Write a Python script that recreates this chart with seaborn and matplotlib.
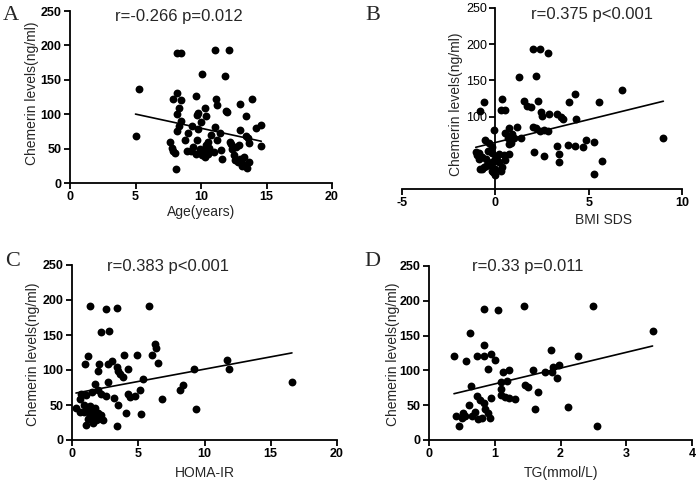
import matplotlib
matplotlib.use("Agg")
import matplotlib.pyplot as plt
import seaborn as sns
import pandas as pd

# ---------------- data ----------------
age = [5.0, 5.3, 7.6, 7.8, 7.9, 8.0, 8.1, 7.9, 8.2, 8.45, 8.2, 8.5, 8.35, 8.15, 8.35, 8.15,
       8.5, 8.8, 8.9, 9.2, 9.0, 9.3, 9.7, 9.6, 9.8, 9.7, 9.8, 9.9, 10.0, 10.1, 10.2, 10.3,
       10.5, 10.6, 10.0, 10.1, 10.3, 10.4, 10.5, 10.8, 11.1, 11.15, 11.25, 11.45, 11.2, 11.0,
       11.6, 11.8, 11.1, 12.1, 11.9, 12.0, 12.2, 12.3, 12.5, 12.7, 12.9, 13.0, 13.0, 12.8,
       13.0, 13.2, 13.3, 13.4, 13.4, 13.5, 13.6, 13.7, 13.9, 13.7, 14.2, 14.6, 14.6,
       9.6, 10.4, 10.7, 9.4, 12.6, 13.1, 11.5, 12.4]
chem_a = [68, 137, 60, 51, 46, 43, 20, 122, 131, 121, 189, 189, 109, 100, 83, 76,
          90, 63, 47, 47, 73, 83, 99, 126, 78, 63, 102, 50, 45, 40, 48, 38,
          42, 51, 89, 158, 109, 98, 60, 70, 81, 122, 114, 72, 63, 45,
          35, 156, 194, 194, 104, 103, 60, 56, 40, 53, 55, 115, 77, 30,
          35, 27, 38, 69, 97, 22, 65, 58, 122, 30, 80, 85, 54,
          42, 55, 46, 52, 33, 24, 48, 50]

bmi_sds = [2.0, 2.4, 2.8, 1.26, 2.16, -0.63, -0.81, 0.36, 0.32, 0.54, 1.53, 1.71, 1.89, 2.3,
           2.43, 2.52, 2.88, 3.33, 3.5, 3.6, 3.96, 4.27, 4.32, 5.55, 6.76, 9.0,
           1.17, 2.0, 2.2, 2.4, 2.6, 2.8, 0.54, -0.09, 1.35, 0.9, 0.86,
           2.07, 2.6, 3.33, 3.42, 3.42, 3.87, 4.29, 4.72, 4.86, 5.31, 5.3, 5.7,
           -1.05, -0.81, -0.54, -0.36, -0.18, -0.9, -0.7, -0.5, -0.18, 0.18, 0.0, 0.18,
           0.36, 0.0, -0.7, -0.6, 0.0, 0.54, 0.72, 0.72, 1.0, -0.9, -1.0, -0.3, -0.1, 0.3,
           0.72, 0.68, -0.4, 0.1, -0.2, 0.45, -0.5, -0.2, 0.1]
chem_b = [193, 193, 188, 155, 156, 120, 108, 124, 109, 109, 122, 115, 113, 122,
          107, 101, 103, 104, 100, 97, 120, 131, 97, 120, 137, 71,
          85, 86, 84, 80, 82, 80, 78, 81, 71, 76, 63,
          51, 45, 59, 49, 37, 61, 60, 58, 67, 65, 21, 38,
          51, 28, 68, 63, 58, 50, 44, 41, 50, 48, 42, 37,
          30, 28, 28, 30, 19, 40, 48, 62, 70, 41, 47, 33, 24, 25,
          84, 70, 53, 46, 37, 47, 32, 25, 38]

homa_ir = [1.34, 2.6, 3.36, 5.8, 2.17, 2.8, 6.25, 6.36, 1.21, 1.01, 2.04, 1.97, 2.72, 3.05,
           3.9, 4.87, 6.0, 6.5, 3.43, 3.48, 3.6, 3.86, 4.23, 5.37,
           1.72, 1.97, 2.2, 1.5, 1.09, 0.7, 0.58, 0.9, 0.3, 0.6, 1.09, 1.34, 1.72, 1.97,
           2.2, 2.34, 1.97, 1.6, 1.09, 1.34, 1.72, 1.5,
           2.72, 2.55, 3.15, 3.48, 4.1, 3.36, 4.23, 4.36, 4.74, 5.12, 5.19, 6.83,
           8.14, 8.39, 9.2, 9.35, 11.7, 11.85, 16.6,
           1.2, 1.8, 0.9, 1.4, 2.1]
chem_c = [192, 187, 188, 192, 154, 156, 137, 131, 120, 109, 109, 99, 109, 113,
          121, 121, 121, 110, 105, 98, 95, 90, 101, 87,
          80, 72, 66, 68, 64, 66, 58, 50, 46, 40, 42, 48, 46, 38,
          36, 28, 30, 24, 21, 34, 32, 40,
          83, 63, 60, 50, 39, 20, 66, 62, 63, 72, 37, 58,
          71, 79, 101, 44, 115, 102, 83,
          30, 28, 40, 35, 33]

tg = [0.84, 1.05, 1.44, 2.5, 3.4, 0.63, 0.38, 0.57, 0.73, 0.84, 0.84, 0.94, 1.0, 0.89,
      1.13, 1.22, 1.09, 1.19, 1.1, 1.1, 1.15, 1.22, 1.31, 1.46, 1.51, 1.58, 1.66, 1.61,
      1.77, 1.85, 0.64, 0.73, 0.78, 0.83, 0.95, 0.9, 0.93, 0.81, 0.61, 0.65, 0.51, 0.5,
      0.41, 0.46, 2.26, 1.98, 1.89, 1.87, 1.95, 2.12, 2.56,
      0.55, 0.7, 0.85, 0.75]
chem_d = [188, 187, 192, 192, 157, 154, 121, 113, 121, 136, 120, 124, 115, 102,
          97, 101, 83, 85, 73, 65, 62, 60, 59, 79, 76, 101, 69, 44,
          98, 129, 77, 63, 57, 53, 61, 39, 31, 31, 50, 34, 39, 31,
          35, 20, 121, 108, 105, 98, 89, 48, 20,
          35, 40, 45, 30]

x_labels = ["Age(years)", "BMI SDS", "HOMA-IR", "TG(mmol/L)"]
y_label = "Chemerin levels(ng/ml)"
stats = ["r=-0.266 p=0.012", "r=0.375 p<0.001", "r=0.383 p<0.001", "r=0.33 p=0.011"]
letters = ["A", "B", "C", "D"]

# ---------------- style ----------------
sns.set_style("ticks")
plt.rcParams["font.family"] = ["Liberation Sans", "DejaVu Sans"]

W, H = 698, 484
fig = plt.figure(figsize=(W / 100, H / 100), dpi=100)


def add_ax(left, right, top, bottom):
    return fig.add_axes([left / W, 1 - bottom / H, (right - left) / W, (bottom - top) / H])


panels = [
    dict(box=(70, 332, 11, 183), x=age, y=chem_a, xlim=(0, 20), xt=[0, 5, 10, 15, 20],
         yt=[0, 50, 100, 150, 200, 250], ylab=(-0.118, 0.52), xlab=(0.5, -0.13),
         stat=(179, 16), letter=(11, 15)),
    dict(box=(402, 682, 8, 189), x=bmi_sds, y=chem_b, xlim=(-5, 10), xt=[-5, 0, 5, 10],
         yt=[100, 150, 200, 250], ylab=(0.218, 0.47), xlab=(0.72, -0.13),
         stat=(592, 15), letter=(373, 15)),
    dict(box=(72, 337, 265, 440), x=homa_ir, y=chem_c, xlim=(0, 20), xt=[0, 5, 10, 15, 20],
         yt=[0, 50, 100, 150, 200, 250], ylab=(-0.12, 0.49), xlab=(0.5, -0.15),
         stat=(168, 267), letter=(13, 262)),
    dict(box=(429, 692, 266, 440), x=tg, y=chem_d, xlim=(0, 4), xt=[0, 1, 2, 3, 4],
         yt=[0, 50, 100, 150, 200, 250], ylab=(-0.11, 0.49), xlab=(0.5, -0.15),
         stat=(528, 266), letter=(372, 262)),
]

for i, p in enumerate(panels):
    ax = add_ax(*p["box"])
    df = pd.DataFrame({"x": p["x"], "y": p["y"]})
    sns.regplot(data=df, x="x", y="y", ax=ax, ci=None, color="black",
                scatter_kws=dict(s=32, linewidths=0, alpha=1, zorder=3),
                line_kws=dict(lw=1.2, zorder=4))
    ax.set_xlim(*p["xlim"])
    ax.set_ylim(0, 250)
    ax.set_xticks(p["xt"])
    ax.set_yticks(p["yt"])
    ax.set_xticklabels([str(v) for v in p["xt"]], fontweight="bold")
    ax.set_yticklabels([str(v) for v in p["yt"]], fontweight="bold")
    sns.despine(ax=ax)
    for s in ("left", "bottom"):
        ax.spines[s].set_linewidth(1.3)
        ax.spines[s].set_color("black")
    if i == 1:
        ax.spines["left"].set_position(("data", 0))
    ax.tick_params(direction="out", length=4, width=1.3, labelsize=9, pad=2, colors="black")
    ax.set_xlabel(x_labels[i], fontsize=10)
    ax.set_ylabel(y_label, fontsize=10)
    ax.xaxis.set_label_coords(*p["xlab"])
    ax.yaxis.set_label_coords(*p["ylab"])
    ax.patch.set_alpha(0)
    fig.text(p["stat"][0] / W, 1 - p["stat"][1] / H, stats[i], fontsize=12,
             ha="center", va="center")
    fig.text(p["letter"][0] / W, 1 - p["letter"][1] / H, letters[i], fontsize=16,
             ha="center", va="center", family=["Liberation Serif", "DejaVu Serif"])

fig.savefig("out.png", dpi=100)
